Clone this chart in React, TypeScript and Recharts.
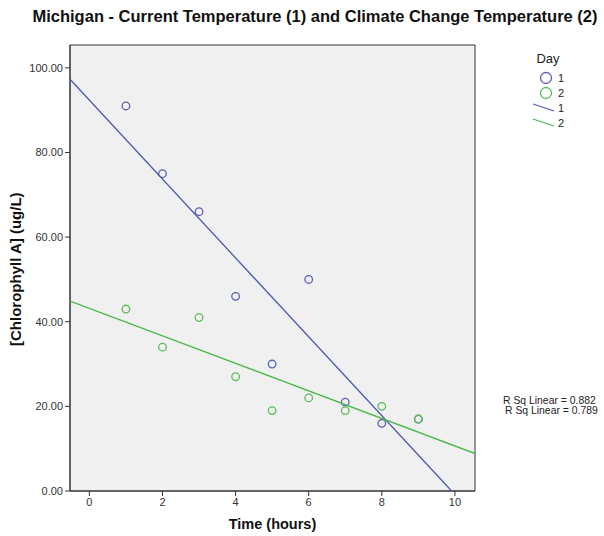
import React from "react"
import {
  ScatterChart,
  Scatter,
  XAxis,
  YAxis,
  ReferenceArea,
} from "recharts"

const hours = [1, 2, 3, 4, 5, 6, 7, 8, 9]
const day1Values = [91, 75, 66, 46, 30, 50, 21, 16, 17]
const day2Values = [43, 34, 41, 27, 19, 22, 19, 20, 17]

// fit line end points (x, y) as drawn
const fitDay1 = [
  { x: -0.53, y: 97.3 },
  { x: 9.91, y: 0 },
]
const fitDay2 = [
  { x: -0.53, y: 44.9 },
  { x: 10.55, y: 8.85 },
]

const xTicks = [0, 2, 4, 6, 8, 10]
const yTicks = [0, 20, 40, 60, 80, 100]
const rSquared = ["0.882", "0.789"]

const day1Points = hours.map((h, i) => ({ x: h, y: day1Values[i] }))
const day2Points = hours.map((h, i) => ({ x: h, y: day2Values[i] }))

const BLUE = "#5a60b4"
const GREEN = "#5cbc5c"
const LINE_BLUE = "#4e57ad"
const LINE_GREEN = "#4ab84a"
const FONT = "'Liberation Sans', Arial, sans-serif"

const Ring = (color: string) => (props: any) => {
  const { cx, cy } = props
  if (cx == null || cy == null) return null
  return <circle cx={cx} cy={cy} r={3.8} fill="none" stroke={color} strokeWidth={1.3} />
}

function LegendBox() {
  return (
    <svg width={80} height={400} style={{ position: "absolute", left: 519, top: 46, fontFamily: FONT, overflow: "visible" }}>
      <text x={29} y={17} fontSize={13} fill="#222" textAnchor="middle">Day</text>
      <circle cx={27} cy={32} r={5.5} fill="none" stroke={BLUE} strokeWidth={1.3} />
      <text x={39} y={36} fontSize={11} fill="#222">1</text>
      <circle cx={27} cy={47} r={5.5} fill="none" stroke={GREEN} strokeWidth={1.3} />
      <text x={39} y={51} fontSize={11} fill="#222">2</text>
      <line x1={14} y1={58} x2={35} y2={65} stroke={LINE_BLUE} strokeWidth={1.3} />
      <text x={39} y={66} fontSize={11} fill="#222">1</text>
      <line x1={14} y1={73} x2={35} y2={80} stroke={LINE_GREEN} strokeWidth={1.3} />
      <text x={39} y={81} fontSize={11} fill="#222">2</text>
      {rSquared.map((r, i) => (
        <text key={i} x={i === 0 ? -16 : -14} y={358 + i * 10} fontSize={10.4} fill="#222">
          R Sq Linear = {r}
        </text>
      ))}
    </svg>
  )
}

export default function App() {
  return (
    <div style={{ position: "absolute", left: 0, top: 0, width: 604, height: 536, background: "#fff", fontFamily: FONT }}>
      <div
        style={{
          position: "absolute",
          top: 7,
          left: 0,
          width: 630,
          textAlign: "center",
          fontSize: 16.5,
          fontWeight: "bold",
          color: "#111",
        }}
      >
        Michigan - Current Temperature (1) and Climate Change Temperature (2)
      </div>
      <ScatterChart width={604} height={536} margin={{ top: 45, right: 129, bottom: 0, left: 0 }}>
        <XAxis
          type="number"
          dataKey="x"
          domain={[-0.53, 10.55]}
          ticks={xTicks}
          allowDataOverflow
          stroke="#333"
          tickSize={5}
          height={45}
          tick={{ fontSize: 11, fill: "#333", fontFamily: FONT }}
          label={{ value: "Time (hours)", position: "insideBottom", offset: 7, fontSize: 14.5, fontWeight: "bold", fill: "#111", fontFamily: FONT }}
        />
        <YAxis
          type="number"
          dataKey="y"
          domain={[0, 105.4]}
          ticks={yTicks}
          allowDataOverflow
          stroke="#333"
          tickSize={5}
          width={70}
          tickFormatter={(v: number) => v.toFixed(2)}
          tick={{ fontSize: 11, fill: "#333", fontFamily: FONT }}
          label={{ value: "[Chlorophyll A] (ug/L)", angle: -90, position: "insideLeft", offset: 16, dy: 78, fontSize: 15, fontWeight: "bold", fill: "#111", fontFamily: FONT }}
        />
        <ReferenceArea x1={-0.53} x2={10.55} y1={0} y2={105.4} fill="#f0f0f0" fillOpacity={1} stroke="#333" strokeWidth={1} />
        <Scatter data={day1Points} shape={Ring(BLUE)} isAnimationActive={false} />
        <Scatter data={day2Points} shape={Ring(GREEN)} isAnimationActive={false} />
        <Scatter
          data={fitDay1}
          line={{ stroke: LINE_BLUE, strokeWidth: 1.3 }}
          lineType="joint"
          shape={() => null}
          isAnimationActive={false}
        />
        <Scatter
          data={fitDay2}
          line={{ stroke: LINE_GREEN, strokeWidth: 1.3 }}
          lineType="joint"
          shape={() => null}
          isAnimationActive={false}
        />
      </ScatterChart>
      <LegendBox />
    </div>
  )
}
